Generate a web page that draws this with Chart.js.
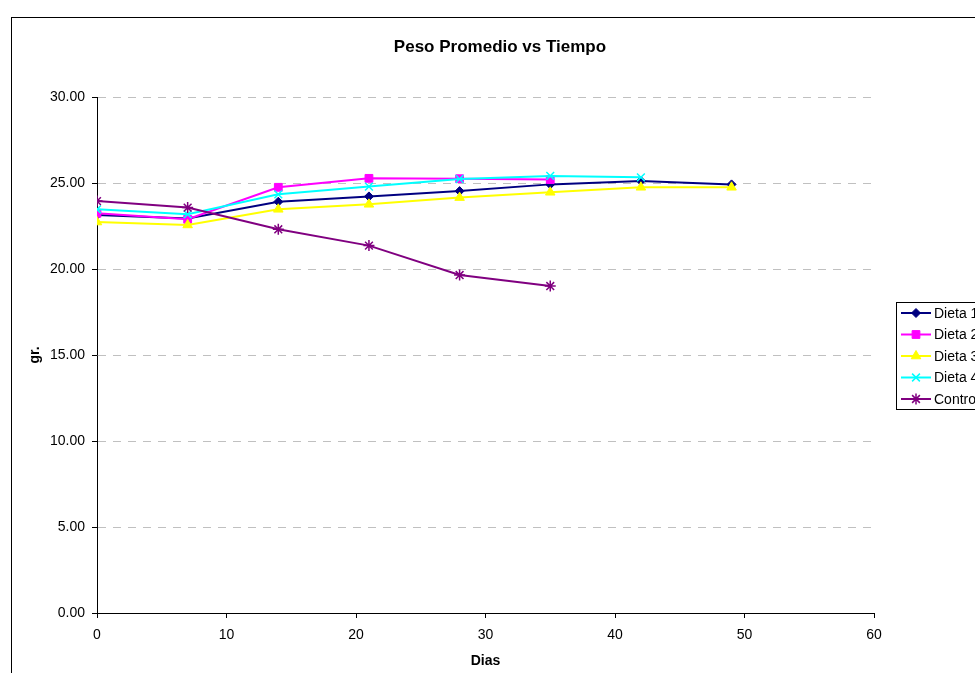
<!DOCTYPE html>
<html>
<head>
<meta charset="utf-8">
<title>Peso Promedio vs Tiempo</title>
<script src="https://cdn.jsdelivr.net/npm/chart.js@4/dist/chart.umd.min.js"></script>
<style>
  html, body { margin: 0; padding: 0; background: #fff; overflow: hidden; }
  #wrap { width: 975px; height: 673px; }
</style>
</head>
<body>
<div id="wrap"><canvas id="peso-chart" width="975" height="673"></canvas></div>
<script>
const DIAS = [0, 7, 14, 21, 28, 35, 42, 49];
const DIETA_1 = [23.14, 22.94, 23.91, 24.22, 24.53, 24.92, 25.12, 24.92];
const DIETA_2 = [23.24, 22.89, 24.75, 25.27, 25.25, 25.2];
const DIETA_3 = [22.73, 22.56, 23.47, 23.76, 24.15, 24.46, 24.75, 24.75];
const DIETA_4 = [23.47, 23.18, 24.34, 24.79, 25.23, 25.41, 25.33];
const CONTROL = [23.95, 23.57, 22.31, 21.36, 19.65, 19.01];
const X_TICKS = [0, 10, 20, 30, 40, 50, 60];
const Y_TICKS = [0, 5, 10, 15, 20, 25, 30];

const FONT = 'Arial, "Liberation Sans", sans-serif';
const TITLE = 'Peso Promedio vs Tiempo';

const SERIES = [
  { label: 'Dieta 1', values: DIETA_1, color: '#000080', style: 'rectRot', radius: 4.5 },
  { label: 'Dieta 2', values: DIETA_2, color: '#ff00ff', style: 'rect', radius: 5.5 },
  { label: 'Dieta 3', values: DIETA_3, color: '#ffff00', style: 'triangle', radius: 5.5 },
  { label: 'Dieta 4', values: DIETA_4, color: '#00ffff', style: 'crossRot', radius: 5.5 },
  { label: 'Control', values: CONTROL, color: '#800080', style: 'star', radius: 5.5 },
];

function buildDatasets() {
  return SERIES.map((s, i) => ({
    label: s.label,
    data: s.values.map((v, j) => ({ x: DIAS[j], y: v })),
    borderColor: s.color,
    backgroundColor: s.color,
    pointBackgroundColor: s.color,
    pointBorderColor: s.color,
    pointStyle: s.style,
    pointRadius: s.radius,
    pointBorderWidth: s.style === 'crossRot' || s.style === 'star' ? 1.5 : 1,
    borderWidth: 2,
    tension: 0,
    fill: false,
    order: SERIES.length - i,
  }));
}

// excel-like frame, title and boxed legend
const excelFrame = {
  id: 'excelFrame',
  afterDraw(chart) {
    const ctx = chart.ctx;
    ctx.save();
    ctx.strokeStyle = '#000';
    ctx.lineWidth = 1;
    ctx.strokeRect(11.5, 17.5, 1200, 1000);

    ctx.fillStyle = '#000';
    ctx.font = 'bold 17px ' + FONT;
    ctx.textAlign = 'center';
    ctx.textBaseline = 'middle';
    ctx.fillText(TITLE, 500, 47);

    ctx.fillStyle = '#fff';
    ctx.fillRect(896.5, 302.5, 200, 107);
    ctx.strokeRect(896.5, 302.5, 200, 107);

    ctx.font = '14px ' + FONT;
    ctx.textAlign = 'left';
    chart.data.datasets.forEach((ds, i) => {
      const y = 313 + i * 21.5;
      ctx.strokeStyle = ds.borderColor;
      ctx.lineWidth = 2;
      ctx.beginPath();
      ctx.moveTo(901, y);
      ctx.lineTo(931, y);
      ctx.stroke();
      ctx.fillStyle = ds.pointBackgroundColor;
      ctx.strokeStyle = ds.pointBorderColor;
      ctx.lineWidth = ds.pointBorderWidth;
      if (Chart.helpers && Chart.helpers.drawPoint) {
        Chart.helpers.drawPoint(ctx, {
          pointStyle: ds.pointStyle,
          radius: ds.pointRadius,
          borderWidth: ds.pointBorderWidth,
          rotation: 0,
        }, 916, y);
      }
      ctx.fillStyle = '#000';
      ctx.fillText(ds.label, 934, y + 1);
    });
    ctx.restore();
  },
};

const ctx = document.getElementById('peso-chart');

new Chart(ctx, {
  type: 'line',
  data: { datasets: buildDatasets() },
  plugins: [excelFrame],
  options: {
    responsive: false,
    animation: false,
    layout: { padding: { left: 0, right: 101, top: 97, bottom: 0 } },
    plugins: {
      legend: { display: false },
      title: { display: false },
      tooltip: { enabled: false },
    },
    scales: {
      x: {
        type: 'linear',
        min: 0,
        max: 60,
        afterFit: (scale) => { scale.height = 60; },
        afterBuildTicks: (scale) => { scale.ticks = X_TICKS.map((v) => ({ value: v })); },
        ticks: { color: '#000', font: { family: FONT, size: 14 }, padding: 9, maxRotation: 0 },
        grid: { drawOnChartArea: false, drawTicks: true, tickLength: 5, tickColor: '#000' },
        border: { color: '#000', width: 1 },
        title: {
          display: true,
          text: 'Dias',
          color: '#000',
          font: { family: FONT, size: 14, weight: 'bold' },
          padding: { top: 0, bottom: 3 },
        },
      },
      y: {
        min: 0,
        max: 30,
        afterFit: (scale) => { scale.width = 97; },
        afterBuildTicks: (scale) => { scale.ticks = Y_TICKS.map((v) => ({ value: v })); },
        ticks: {
          color: '#000',
          font: { family: FONT, size: 14 },
          padding: 7,
          callback: (value) => Number(value).toFixed(2),
        },
        grid: {
          color: (c) => (c.tick && c.tick.value === 0 ? 'rgba(0,0,0,0)' : '#c0c0c0'),
          lineWidth: 1,
          tickLength: 5,
          tickColor: '#000',
        },
        border: { color: '#000', width: 1, dash: [8, 7] },
        title: {
          display: true,
          text: 'gr.',
          color: '#000',
          font: { family: FONT, size: 14, weight: 'bold' },
          padding: { top: 27, bottom: 0 },
        },
      },
    },
  },
});
</script>
</body>
</html>
